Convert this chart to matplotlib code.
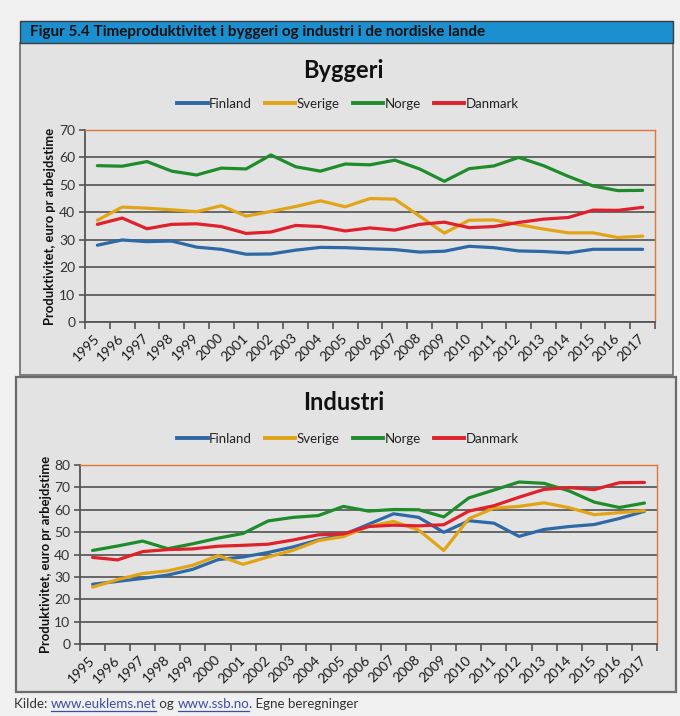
import matplotlib
matplotlib.use("Agg")
import matplotlib.pyplot as plt
from matplotlib.patches import Rectangle
from matplotlib.lines import Line2D

plt.rcParams['font.family'] = ['Lato', 'DejaVu Sans']

years = [str(y) for y in range(1995, 2018)]
countries = ["Finland", "Sverige", "Norge", "Danmark"]
colors = {"Finland": "#2f68a6", "Sverige": "#e2a417", "Norge": "#1f8c2c", "Danmark": "#e0202a"}

byggeri_finland = [28.0, 29.9, 29.3, 29.5, 27.3, 26.5, 24.7, 24.8, 26.2, 27.2, 27.1, 26.7,
                   26.4, 25.5, 25.8, 27.6, 27.1, 25.9, 25.7, 25.2, 26.5, 26.5, 26.5]
byggeri_sverige = [37.1, 41.9, 41.5, 40.9, 40.2, 42.4, 38.6, 40.3, 42.1, 44.2, 42.0, 45.0,
                   44.8, 38.6, 32.4, 37.1, 37.2, 35.5, 33.9, 32.5, 32.5, 30.8, 31.3]
byggeri_norge = [57.0, 56.8, 58.5, 55.0, 53.6, 56.1, 55.8, 60.9, 56.6, 55.0, 57.6, 57.3,
                 59.0, 55.8, 51.3, 55.9, 56.9, 60.0, 57.0, 53.1, 49.6, 47.9, 48.0]
byggeri_danmark = [35.6, 37.9, 34.0, 35.6, 35.8, 34.8, 32.3, 32.8, 35.2, 34.8, 33.2, 34.3,
                   33.5, 35.6, 36.4, 34.4, 34.8, 36.3, 37.5, 38.1, 40.8, 40.7, 41.8]

industri_finland = [26.7, 28.0, 29.3, 30.8, 33.4, 37.7, 38.9, 40.9, 43.4, 46.5, 48.8, 53.5,
                    58.2, 56.6, 49.9, 55.1, 54.0, 48.1, 51.2, 52.5, 53.4, 56.1, 59.3]
industri_sverige = [25.4, 28.8, 31.5, 32.7, 35.2, 39.5, 35.6, 38.9, 41.9, 46.2, 48.0, 52.5,
                    54.8, 50.9, 41.8, 56.0, 60.7, 61.5, 63.1, 60.9, 57.8, 58.7, 59.6]
industri_norge = [41.8, 43.8, 46.0, 42.6, 44.8, 47.3, 49.4, 55.0, 56.6, 57.4, 61.5, 59.4,
                  60.1, 60.0, 56.8, 65.3, 68.8, 72.4, 71.8, 68.4, 63.4, 61.0, 63.0]
industri_danmark = [38.7, 37.6, 41.3, 42.2, 42.5, 43.7, 44.1, 44.6, 46.5, 48.8, 49.2, 52.5,
                    53.1, 52.8, 53.3, 59.4, 61.8, 65.6, 69.1, 69.9, 69.0, 72.1, 72.2]

byggeri = {"Finland": byggeri_finland, "Sverige": byggeri_sverige,
           "Norge": byggeri_norge, "Danmark": byggeri_danmark}
industri = {"Finland": industri_finland, "Sverige": industri_sverige,
            "Norge": industri_norge, "Danmark": industri_danmark}

fig_title = "Figur 5.4 Timeproduktivitet i byggeri og industri i de nordiske lande"
ylabel = "Produktivitet, euro pr arbejdstime"

W, H = 680, 716
fig = plt.figure(figsize=(W / 100, H / 100), dpi=100, facecolor="#f0f0f0")

def px_rect(x0, y0, x1, y1, **kw):
    """Rectangle in pixel coordinates measured from the top-left corner."""
    r = Rectangle((x0 / W, 1 - y1 / H), (x1 - x0) / W, (y1 - y0) / H,
                  transform=fig.transFigure, **kw)
    fig.add_artist(r)
    return r

# Panel frames
px_rect(20, 43, 673, 375, facecolor="#e2e3e2", edgecolor="#6b6b6b", lw=1.2, zorder=0)
px_rect(16, 377, 676, 692, facecolor="#e2e3e2", edgecolor="#6b6b6b", lw=1.6, zorder=0)
# Title bar
px_rect(20, 21, 673, 43, facecolor="#1b8fcf", edgecolor="#3a3a3a", lw=1.0, zorder=1)
fig.text(30 / W, 1 - 32 / H, fig_title, fontsize=11, fontweight="bold",
         color="#111111", va="center", ha="left")


def draw_panel(ax, data, ymax, title, title_y, legend_y, label_x):
    x = list(range(len(years)))
    for c in countries:
        ax.plot(x, data[c], color=colors[c], lw=2.3, label=c, solid_capstyle="round",
                zorder=3)
    ax.set_facecolor("none")
    ax.set_xlim(-0.5, len(years) - 0.5)
    ax.set_ylim(0, ymax)
    ax.set_yticks(range(0, ymax + 1, 10))
    ax.yaxis.grid(True, color="#5c5c5c", lw=1.3, zorder=1)
    ax.set_axisbelow(True)
    # category boundary ticks, labels at the category centres
    ax.set_xticks([i - 0.5 for i in range(len(years) + 1)])
    ax.set_xticklabels([])
    ax.set_xticks(x, minor=True)
    ax.set_xticklabels(years, minor=True, rotation=45, ha="right", va="center",
                       rotation_mode="anchor", fontsize=10, color="#1a1a1a")
    ax.tick_params(axis="x", which="major", length=5, width=1.2, color="#555555")
    ax.tick_params(axis="x", which="minor", length=0, pad=10)
    ax.tick_params(axis="y", length=4, width=1.2, color="#555555",
                   labelsize=10, labelcolor="#333333", pad=3)
    for s in ("left", "bottom"):
        ax.spines[s].set_color("#555555")
        ax.spines[s].set_linewidth(1.3)
    for s in ("top", "right"):
        ax.spines[s].set_color("#e0763a")
        ax.spines[s].set_linewidth(1.0)
    ax.set_ylabel(ylabel, fontsize=9.4, fontweight="bold", color="#111111")
    ax.yaxis.set_label_coords(label_x, 0.5)
    fig.text(0.505, 1 - title_y / H, title, fontsize=17, fontweight="bold",
             ha="center", va="center", color="#111111")
    handles = [Line2D([0], [0], color=colors[c], lw=2.8) for c in countries]
    fig.legend(handles, countries, loc="center", bbox_to_anchor=(0.512, 1 - legend_y / H),
               ncol=4, frameon=False, fontsize=9.5, handlelength=2.3,
               handletextpad=0.1, columnspacing=1.0, labelcolor="#222222")


ax1 = fig.add_axes([85 / W, 1 - 322 / H, 570 / W, 192 / H])
draw_panel(ax1, byggeri, 70, "Byggeri", 70, 104, -0.05)

ax2 = fig.add_axes([80 / W, 1 - 644 / H, 577 / W, 179 / H])
draw_panel(ax2, industri, 80, "Industri", 403, 439, -0.048)

# Source line with underlined links
fig.canvas.draw()
renderer = fig.canvas.get_renderer()
parts = [("Kilde: ", "#333333", False), ("www.euklems.net", "#3b4fa0", True),
         (" og ", "#333333", False), ("www.ssb.no", "#3b4fa0", True),
         (". Egne beregninger", "#333333", False)]
xpos = 14 / W
ypos = 1 - 708 / H
for txt, col, link in parts:
    t = fig.text(xpos, ypos, txt, fontsize=9.6, color=col, ha="left", va="baseline")
    bb = t.get_window_extent(renderer=renderer)
    w = bb.width / fig.bbox.width
    if link:
        fig.add_artist(Line2D([xpos, xpos + w], [ypos - 2.5 / H, ypos - 2.5 / H],
                              transform=fig.transFigure, color=col, lw=0.9))
    xpos += w

fig.savefig("out.png", dpi=100, facecolor=fig.get_facecolor())
